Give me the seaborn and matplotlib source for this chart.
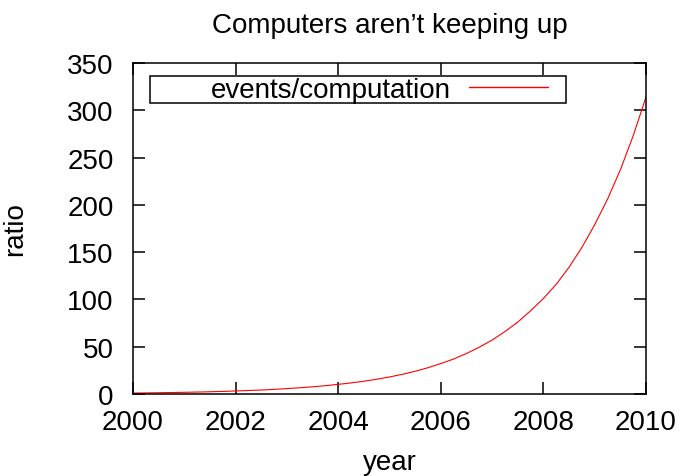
import matplotlib
matplotlib.use("Agg")
import matplotlib.pyplot as plt
from matplotlib.patches import Rectangle
import pandas as pd
import seaborn as sns

# ratio of recorded events to available computation, quarter-year steps
years = [2000.0, 2000.25, 2000.5, 2000.75, 2001.0, 2001.25, 2001.5, 2001.75,
         2002.0, 2002.25, 2002.5, 2002.75, 2003.0, 2003.25, 2003.5, 2003.75,
         2004.0, 2004.25, 2004.5, 2004.75, 2005.0, 2005.25, 2005.5, 2005.75,
         2006.0, 2006.25, 2006.5, 2006.75, 2007.0, 2007.25, 2007.5, 2007.75,
         2008.0, 2008.25, 2008.5, 2008.75, 2009.0, 2009.25, 2009.5, 2009.75,
         2010.0]
ratio = [1.0, 1.15, 1.33, 1.54, 1.78, 2.05, 2.37, 2.74,
         3.2, 3.7, 4.2, 4.9, 5.7, 6.6, 7.6, 8.8,
         10.2, 11.7, 13.5, 15.6, 18.0, 20.8, 24.0, 27.8,
         32.2, 37.0, 42.8, 49.5, 57.0, 66.0, 76.0, 88.0,
         101.0, 116.0, 134.0, 155.0, 179.0, 206.0, 237.0, 273.0,
         314.0]
series_label = "events/computation"
x_ticks = [2000, 2002, 2004, 2006, 2008, 2010]
y_ticks = [0, 50, 100, 150, 200, 250, 300, 350]

df = pd.DataFrame({"year": years, "ratio": ratio})

sns.set_style("white")
plt.rcParams["font.family"] = ["Liberation Sans", "DejaVu Sans"]
plt.rcParams["text.color"] = "black"

fs = 20
fig = plt.figure(figsize=(6.81, 4.77), dpi=100)
ax = fig.add_axes([133 / 681, 1 - 395 / 477, 513 / 681, 331 / 477])

sns.lineplot(data=df, x="year", y="ratio", color="#ff0000", linewidth=0.8,
             ax=ax, label=series_label)

ax.set_xlim(2000, 2010)
ax.set_ylim(0, 350)
ax.set_xticks(x_ticks)
ax.set_yticks(y_ticks)
ax.set_xticklabels([str(t) for t in x_ticks])
ax.set_yticklabels([str(t) for t in y_ticks])

for sp in ax.spines.values():
    sp.set_visible(True)
    sp.set_color("black")
    sp.set_linewidth(1.1)

ax.tick_params(axis="both", which="major", direction="in", length=8.6,
               width=1.1, color="black", labelsize=fs, labelcolor="black",
               top=True, right=True, bottom=True, left=True)
ax.tick_params(axis="x", pad=11)
ax.tick_params(axis="y", pad=14)

ax.set_title("Computers aren\u2019t keeping up", fontsize=fs, pad=22.5,
             color="black")
ax.set_xlabel("year", fontsize=fs, color="black", va="center")
ax.set_ylabel("ratio", fontsize=fs, color="black", va="center")
ax.xaxis.set_label_coords(0.5, -0.205)
ax.yaxis.set_label_coords(-0.23, 0.5)

# key box with label on the left and line sample on the right
ax.add_patch(Rectangle((17 / 513, (395 - 104.3) / 331), 416 / 513, 27.6 / 331,
                       transform=ax.transAxes, fill=False, edgecolor="black",
                       linewidth=1.1, zorder=5, clip_on=False))
leg = ax.legend(loc="center right", bbox_to_anchor=((566 - 18 - 133) / 513,
                                                    (395 - 90.5) / 331),
                frameon=False, markerfirst=False, fontsize=fs, borderpad=0,
                borderaxespad=0, handlelength=2.85, handletextpad=0.65,
                labelcolor="black")
for h in leg.get_lines():
    h.set_linewidth(1.0)

fig.savefig("out.png", dpi=100)
